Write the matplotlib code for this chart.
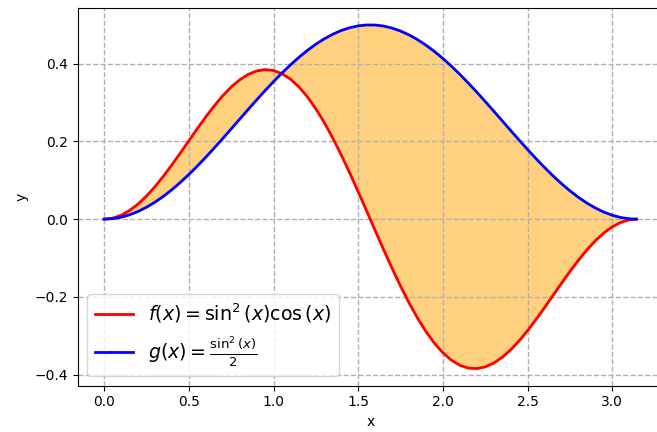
import matplotlib
matplotlib.use("Agg")
import matplotlib.pyplot as plt

# sample positions on [0, pi]
x_vals = [0.00, 0.05, 0.10, 0.15, 0.20, 0.25, 0.30, 0.35, 0.40, 0.45,
          0.50, 0.55, 0.60, 0.65, 0.70, 0.75, 0.80, 0.85, 0.90, 0.95,
          1.00, 1.05, 1.10, 1.15, 1.20, 1.25, 1.30, 1.35, 1.40, 1.45,
          1.50, 1.55, 1.60, 1.65, 1.70, 1.75, 1.80, 1.85, 1.90, 1.95,
          2.00, 2.05, 2.10, 2.15, 2.20, 2.25, 2.30, 2.35, 2.40, 2.45,
          2.50, 2.55, 2.60, 2.65, 2.70, 2.75, 2.80, 2.85, 2.90, 2.95,
          3.00, 3.05, 3.10, 3.1416]

# f(x) = sin^2(x) cos(x)
f_vals = [0.0, 0.0025, 0.0099, 0.0221, 0.0387, 0.0593, 0.0834, 0.1105, 0.1397, 0.1704,
          0.2017, 0.2329, 0.2631, 0.2916, 0.3174, 0.3400, 0.3585, 0.3725, 0.3814, 0.3849,
          0.3826, 0.3744, 0.3603, 0.3403, 0.3148, 0.2840, 0.2484, 0.2085, 0.1651, 0.1188,
          0.0704, 0.0208, -0.0292, -0.0786, -0.1267, -0.1726, -0.2155, -0.2547, -0.2895, -0.3195,
          -0.3441, -0.3631, -0.3762, -0.3834, -0.3847, -0.3803, -0.3705, -0.3557, -0.3364, -0.3133,
          -0.2869, -0.2582, -0.2277, -0.1964, -0.1651, -0.1346, -0.1057, -0.0792, -0.0556, -0.0356,
          -0.0197, -0.0083, -0.0017, 0.0]

# g(x) = sin^2(x) / 2
g_vals = [0.0, 0.0012, 0.0050, 0.0112, 0.0197, 0.0306, 0.0437, 0.0588, 0.0758, 0.0946,
          0.1149, 0.1366, 0.1594, 0.1831, 0.2075, 0.2323, 0.2573, 0.2822, 0.3068, 0.3308,
          0.3540, 0.3762, 0.3971, 0.4166, 0.4343, 0.4503, 0.4642, 0.4760, 0.4856, 0.4927,
          0.4975, 0.4998, 0.4996, 0.4969, 0.4917, 0.4841, 0.4742, 0.4620, 0.4477, 0.4315,
          0.4134, 0.3937, 0.3726, 0.3502, 0.3268, 0.3027, 0.2780, 0.2531, 0.2281, 0.2034,
          0.1791, 0.1555, 0.1329, 0.1114, 0.0913, 0.0728, 0.0561, 0.0413, 0.0286, 0.0181,
          0.0100, 0.0042, 0.0009, 0.0]

f_label = r'$f(x)=\sin^2{(x)}\cos{(x)}$'
g_label = r'$g(x)=\frac{\sin^2{(x)}}{2}$'


def main():
    fig = plt.figure(figsize=(6.57, 4.32), dpi=100)
    ax = fig.add_axes([0.118, 0.107, 0.891, 0.875])

    ax.plot(x_vals, f_vals, color='red', linewidth=2, label=f_label)
    ax.plot(x_vals, g_vals, color='blue', linewidth=2, label=g_label)
    ax.fill_between(x_vals, f_vals, g_vals, color='orange', alpha=0.5)

    ax.set_xlabel("x")
    ax.set_ylabel("y")
    ax.set_xticks([0.0, 0.5, 1.0, 1.5, 2.0, 2.5, 3.0])
    ax.set_yticks([-0.4, -0.2, 0.0, 0.2, 0.4])
    ax.grid(True, linestyle='--', linewidth=1, color='#b0b0b0')
    ax.legend(loc='lower left', fontsize=13.7)

    fig.savefig('out.png', dpi=100)
    plt.close(fig)


if __name__ == "__main__":
    main()
